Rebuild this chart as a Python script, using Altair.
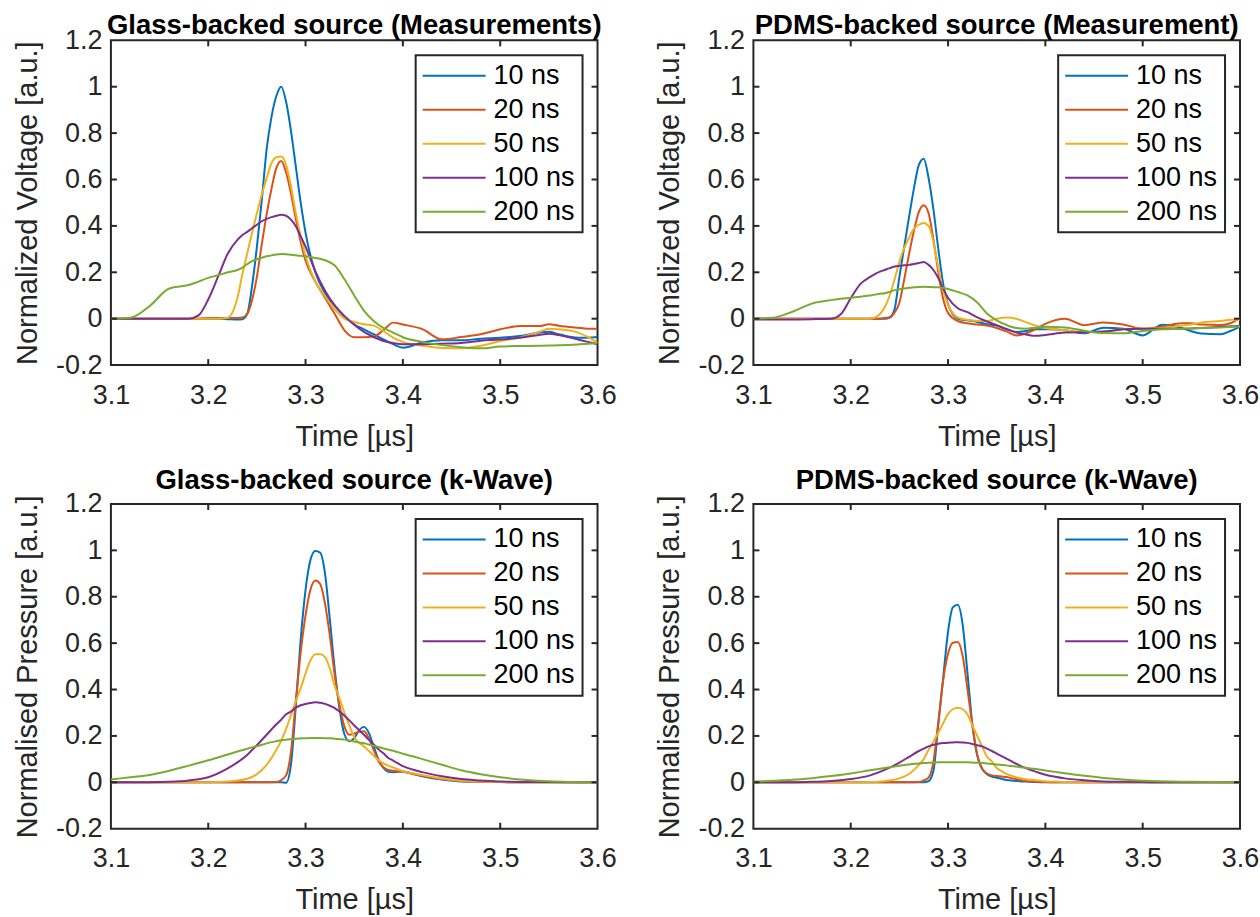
import altair as alt
import pandas as pd

SERIES = ["10 ns", "20 ns", "50 ns", "100 ns", "200 ns"]
COLORS = ["#0072BD", "#D95319", "#EDB120", "#7E2F8E", "#77AC30"]
X_TICKS = [3.1, 3.2, 3.3, 3.4, 3.5, 3.6]
Y_TICKS = [-0.2, 0, 0.2, 0.4, 0.6, 0.8, 1.0, 1.2]

# ---- measurement time grid (µs)
T_MEAS = [3.10, 3.12, 3.14, 3.16, 3.18, 3.19, 3.20, 3.21, 3.22, 3.23,
          3.235, 3.24, 3.245, 3.25, 3.255, 3.26, 3.265, 3.27, 3.275, 3.28,
          3.285, 3.29, 3.295, 3.30, 3.31, 3.32, 3.33, 3.34, 3.35, 3.36,
          3.37, 3.38, 3.39, 3.40, 3.42, 3.44, 3.46, 3.48, 3.50, 3.52,
          3.54, 3.55, 3.56, 3.58, 3.59, 3.60]

# Glass-backed source (Measurements)
gm_10 = [0, 0, 0, 0, 0, 0, 0, 0, -0.002, -0.004,
         -0.002, 0.02, 0.14, 0.31, 0.51, 0.73, 0.87, 0.96, 1.0, 0.935,
         0.81, 0.656, 0.50, 0.37, 0.20, 0.11, 0.055, 0.01, -0.024, -0.046,
         -0.067, -0.089, -0.11, -0.125, -0.103, -0.093, -0.093, -0.086, -0.082, -0.075,
         -0.06, -0.056, -0.067, -0.082, -0.082, -0.079]
gm_20 = [0, 0, 0, 0, 0, 0, 0.003, 0.003, 0.003, 0.003,
         0.005, 0.02, 0.08, 0.18, 0.32, 0.45, 0.56, 0.65, 0.68, 0.63,
         0.54, 0.43, 0.33, 0.25, 0.16, 0.09, 0.02, -0.05, -0.08, -0.08,
         -0.077, -0.05, -0.017, -0.025, -0.045, -0.089, -0.079, -0.067, -0.046, -0.032,
         -0.032, -0.024, -0.03, -0.039, -0.043, -0.043]
gm_50 = [0, 0, 0, 0, 0, 0, 0, 0, 0.004, 0.09,
         0.19, 0.28, 0.37, 0.455, 0.534, 0.606, 0.67, 0.696, 0.699, 0.663,
         0.57, 0.455, 0.355, 0.27, 0.16, 0.097, 0.04, 0.0, -0.014, -0.024,
         -0.03, -0.053, -0.082, -0.10, -0.117, -0.126, -0.127, -0.117, -0.096, -0.082,
         -0.057, -0.043, -0.046, -0.06, -0.079, -0.103]
gm_100 = [0, 0, 0, 0, 0, 0.014, 0.083, 0.18, 0.28, 0.34,
          0.36, 0.374, 0.39, 0.405, 0.42, 0.43, 0.438, 0.444, 0.448, 0.444,
          0.427, 0.398, 0.355, 0.31, 0.205, 0.12, 0.057, 0.011, -0.026, -0.057,
          -0.079, -0.096, -0.105, -0.11, -0.11, -0.108, -0.105, -0.095, -0.09, -0.082,
          -0.07, -0.065, -0.07, -0.09, -0.1, -0.11]
gm_200 = [0, 0.004, 0.055, 0.13, 0.145, 0.16, 0.176, 0.187, 0.20, 0.21,
          0.22, 0.235, 0.248, 0.256, 0.263, 0.269, 0.273, 0.277, 0.279, 0.278,
          0.276, 0.273, 0.271, 0.269, 0.262, 0.252, 0.229, 0.17, 0.10, 0.035,
          -0.01, -0.04, -0.06, -0.08, -0.1, -0.114, -0.123, -0.128, -0.12, -0.118,
          -0.117, -0.116, -0.115, -0.111, -0.108, -0.106]

# PDMS-backed source (Measurement)
pm_10 = [0, 0, 0, 0, 0, 0, 0, 0, 0, 0,
         0, 0.005, 0.04, 0.18, 0.31, 0.44, 0.563, 0.663, 0.69, 0.606,
         0.47, 0.30, 0.15, 0.062, 0.0, -0.007, -0.014, -0.024, -0.03, -0.046,
         -0.057, -0.053, -0.046, -0.046, -0.05, -0.063, -0.039, -0.043, -0.072, -0.026,
         -0.04, -0.054, -0.064, -0.067, -0.053, -0.034]
pm_20 = [0, 0, 0, 0, 0, 0, 0, 0, 0, 0,
         0.003, 0.005, 0.026, 0.069, 0.17, 0.28, 0.38, 0.46, 0.489, 0.455,
         0.34, 0.2, 0.085, 0.025, -0.01, -0.02, -0.025, -0.03, -0.04, -0.055,
         -0.072, -0.064, -0.045, -0.022, 0.0, -0.028, -0.016, -0.025, -0.043, -0.034,
         -0.02, -0.02, -0.025, -0.027, -0.02, 0.004]
pm_50 = [0, 0, 0, 0, 0, 0, 0, 0, 0, 0.02,
         0.05, 0.1, 0.169, 0.245, 0.305, 0.35, 0.388, 0.405, 0.413, 0.40,
         0.33, 0.22, 0.12, 0.06, 0.005, -0.005, -0.01, -0.01, 0.0, 0.005,
         0.0, -0.015, -0.03, -0.04, -0.05, -0.058, -0.055, -0.046, -0.043, -0.04,
         -0.03, -0.025, -0.017, -0.01, -0.005, -0.003]
pm_100 = [-0.003, -0.003, -0.003, -0.002, 0, 0.02, 0.088, 0.15, 0.18, 0.203,
          0.21, 0.218, 0.225, 0.228, 0.23, 0.232, 0.236, 0.24, 0.244, 0.232,
          0.21, 0.175, 0.13, 0.09, 0.045, 0.028, 0.006, -0.012, -0.028, -0.044,
          -0.06, -0.068, -0.074, -0.07, -0.06, -0.058, -0.055, -0.046, -0.043, -0.043,
          -0.043, -0.042, -0.04, -0.035, -0.033, -0.03]
pm_200 = [0, 0.004, 0.03, 0.065, 0.08, 0.086, 0.09, 0.095, 0.1, 0.107,
          0.11, 0.115, 0.123, 0.127, 0.13, 0.133, 0.135, 0.137, 0.1375, 0.137,
          0.136, 0.135, 0.132, 0.128, 0.115, 0.1, 0.07, 0.022, -0.007, -0.027,
          -0.04, -0.043, -0.039, -0.035, -0.038, -0.052, -0.062, -0.063, -0.053, -0.046,
          -0.043, -0.042, -0.04, -0.038, -0.036, -0.034]

# ---- k-Wave time grid (µs)
T_SIM = [3.10, 3.12, 3.14, 3.16, 3.18, 3.20, 3.22, 3.24, 3.25, 3.26,
         3.27, 3.275, 3.28, 3.285, 3.29, 3.295, 3.30, 3.305, 3.31, 3.315,
         3.32, 3.325, 3.33, 3.335, 3.34, 3.345, 3.35, 3.355, 3.36, 3.365,
         3.37, 3.375, 3.38, 3.385, 3.39, 3.40, 3.41, 3.42, 3.44, 3.46,
         3.48, 3.50, 3.55, 3.60]

# Glass-backed source (k-Wave)
gk_10 = [0, 0, 0, 0, 0, 0, 0, 0, 0, 0,
         0, 0, -0.002, 0.076, 0.33, 0.616, 0.83, 0.958, 0.997, 0.99,
         0.90, 0.70, 0.486, 0.314, 0.206, 0.177, 0.19, 0.224, 0.239, 0.213,
         0.155, 0.098, 0.062, 0.045, 0.043, 0.047, 0.037, 0.026, 0.012, 0.004,
         0.002, 0.001, 0, 0]
gk_20 = [0, 0, 0, 0, 0, 0, 0, 0, 0, 0,
         0.001, 0.01, 0.03, 0.13, 0.35, 0.56, 0.72, 0.83, 0.87, 0.855,
         0.77, 0.63, 0.46, 0.33, 0.24, 0.205, 0.21, 0.218, 0.22, 0.19,
         0.14, 0.09, 0.065, 0.053, 0.05, 0.045, 0.036, 0.028, 0.014, 0.006,
         0.003, 0.001, 0, 0]
gk_50 = [0, 0, 0, 0, 0, 0, 0.003, 0.015, 0.035, 0.075,
         0.14, 0.18, 0.23, 0.29, 0.35, 0.405, 0.47, 0.525, 0.552, 0.552,
         0.54, 0.49, 0.415, 0.36, 0.30, 0.245, 0.195, 0.17, 0.155, 0.135,
         0.115, 0.095, 0.082, 0.072, 0.064, 0.048, 0.039, 0.031, 0.016, 0.007,
         0.003, 0.001, 0, 0]
gk_100 = [0, 0, 0, 0.002, 0.008, 0.022, 0.06, 0.118, 0.16, 0.205,
          0.25, 0.27, 0.293, 0.305, 0.322, 0.332, 0.338, 0.342, 0.345, 0.343,
          0.338, 0.33, 0.32, 0.305, 0.287, 0.267, 0.245, 0.225, 0.205, 0.183,
          0.163, 0.142, 0.125, 0.105, 0.094, 0.07, 0.055, 0.044, 0.026, 0.014,
          0.008, 0.003, 0.001, 0]
gk_200 = [0.012, 0.022, 0.032, 0.05, 0.072, 0.095, 0.12, 0.145, 0.156, 0.168,
          0.177, 0.181, 0.184, 0.186, 0.188, 0.189, 0.19, 0.191, 0.191, 0.191,
          0.19, 0.19, 0.188, 0.186, 0.184, 0.18, 0.176, 0.172, 0.168, 0.163,
          0.158, 0.152, 0.146, 0.141, 0.136, 0.123, 0.112, 0.10, 0.076, 0.052,
          0.035, 0.022, 0.005, 0.0]

# PDMS-backed source (k-Wave)
pk_10 = [0, 0, 0, 0, 0, 0, 0, 0, 0, 0,
         0, 0, 0.005, 0.05, 0.25, 0.45, 0.65, 0.755, 0.765, 0.68,
         0.47, 0.25, 0.115, 0.058, 0.035, 0.025, 0.02, 0.015, 0.01, 0.008,
         0.006, 0.004, 0.003, 0.002, 0.001, 0, 0, 0, 0, 0,
         0, 0, 0, 0]
pk_20 = [0, 0, 0, 0, 0, 0, 0, 0, 0, 0,
         0.001, 0.008, 0.02, 0.09, 0.26, 0.44, 0.555, 0.602, 0.605, 0.545,
         0.4, 0.245, 0.12, 0.06, 0.038, 0.03, 0.027, 0.025, 0.023, 0.018,
         0.014, 0.009, 0.006, 0.004, 0.003, 0.001, 0, 0, 0, 0,
         0, 0, 0, 0]
pk_50 = [0, 0, 0, 0, 0, 0, 0.001, 0.008, 0.017, 0.036,
         0.075, 0.1, 0.14, 0.175, 0.215, 0.255, 0.295, 0.315, 0.321, 0.315,
         0.292, 0.245, 0.2, 0.155, 0.11, 0.09, 0.062, 0.048, 0.036, 0.028,
         0.022, 0.018, 0.013, 0.011, 0.009, 0.005, 0.003, 0.001, 0, 0,
         0, 0, 0, 0]
pk_100 = [0, 0, 0, 0.002, 0.006, 0.014, 0.03, 0.063, 0.085, 0.11,
          0.135, 0.145, 0.155, 0.162, 0.166, 0.169, 0.171, 0.172, 0.173, 0.172,
          0.17, 0.165, 0.16, 0.155, 0.145, 0.135, 0.124, 0.113, 0.102, 0.091,
          0.08, 0.07, 0.061, 0.053, 0.046, 0.033, 0.024, 0.017, 0.009, 0.004,
          0.002, 0.001, 0, 0]
pk_200 = [0.003, 0.007, 0.011, 0.018, 0.027, 0.038, 0.052, 0.065, 0.071, 0.077,
          0.081, 0.083, 0.084, 0.085, 0.086, 0.086, 0.086, 0.086, 0.086, 0.086,
          0.086, 0.085, 0.084, 0.083, 0.081, 0.079, 0.077, 0.075, 0.073, 0.07,
          0.068, 0.065, 0.063, 0.06, 0.057, 0.051, 0.045, 0.039, 0.028, 0.019,
          0.012, 0.007, 0.002, 0.0]

FONT = "Liberation Sans"
AX = "#262626"
W, H = 487, 325
TICK = 6


def panel(t, values, title, ytitle, title_offset):
    rows = []
    for k, (name, vals) in enumerate(zip(SERIES, values)):
        for tt, v in zip(t, vals):
            rows.append({"t": tt, "v": v, "s": name, "o": k})
    df = pd.DataFrame(rows)
    xs = alt.Scale(domain=[3.1, 3.6], nice=False, zero=False)
    ys = alt.Scale(domain=[-0.2, 1.2], nice=False, zero=False)
    xaxis = alt.Axis(values=X_TICKS, title="Time [µs]", format=".1f",
                     labelFontSize=27, titleFontSize=29, labelPadding=17,
                     titlePadding=14, ticks=False, tickSize=0, domain=False,
                     grid=False, labelColor=AX, titleColor=AX, labelFont=FONT,
                     titleFont=FONT, titleFontWeight="normal", labelFlush=False,
                     labelOverlap=False)
    yaxis = alt.Axis(values=Y_TICKS, title=ytitle,
                     labelExpr="datum.value < 0 ? '-' + format(-datum.value, '.1~f') : format(datum.value, '.1~f')",
                     labelFontSize=27, titleFontSize=29, labelPadding=9,
                     titlePadding=13, ticks=False, tickSize=0, domain=False,
                     grid=False, labelColor=AX, titleColor=AX, labelFont=FONT,
                     titleFont=FONT, titleFontWeight="normal", labelFlush=False,
                     labelOverlap=False)
    lines = alt.Chart(df).mark_line(strokeWidth=2, interpolate="monotone", clip=True).encode(
        x=alt.X("t:Q", scale=xs, axis=xaxis),
        y=alt.Y("v:Q", scale=ys, axis=yaxis),
        color=alt.Color("s:N", scale=alt.Scale(domain=SERIES, range=COLORS), sort=SERIES,
                        legend=alt.Legend(title=None, orient="top-right", offset=15,
                                          padding=7, strokeColor=AX, fillColor="white",
                                          symbolType="M-3,0H3", symbolSize=441,
                                          symbolOffset=18, symbolStrokeWidth=2,
                                          labelFontSize=27, labelFont=FONT,
                                          labelColor="black", rowPadding=6,
                                          labelOffset=26, cornerRadius=0)),
        order=alt.Order("o:Q"),
    )
    xt = pd.DataFrame({"t": X_TICKS[1:-1]})
    yt = pd.DataFrame({"v": Y_TICKS[1:-1]})
    rule = dict(color=AX, strokeWidth=2)
    bottom = alt.Chart(xt).mark_rule(**rule).encode(
        x=alt.X("t:Q", scale=xs, axis=xaxis), y=alt.value(H), y2=alt.value(H - TICK))
    top = alt.Chart(xt).mark_rule(**rule).encode(
        x=alt.X("t:Q", scale=xs, axis=xaxis), y=alt.value(0), y2=alt.value(TICK))
    left = alt.Chart(yt).mark_rule(**rule).encode(
        y=alt.Y("v:Q", scale=ys, axis=yaxis), x=alt.value(0), x2=alt.value(TICK))
    right = alt.Chart(yt).mark_rule(**rule).encode(
        y=alt.Y("v:Q", scale=ys, axis=yaxis), x=alt.value(W), x2=alt.value(W - TICK))
    return alt.layer(lines, bottom, top, left, right).properties(
        width=W, height=H,
        title=alt.TitleParams(title, font=FONT, fontSize=27.5, fontWeight="bold",
                              color="black", offset=title_offset, anchor="middle"))


p1 = panel(T_MEAS, [gm_10, gm_20, gm_50, gm_100, gm_200],
           "Glass-backed source (Measurements)", "Normalized Voltage [a.u.]", -13)
p2 = panel(T_MEAS, [pm_10, pm_20, pm_50, pm_100, pm_200],
           "PDMS-backed source (Measurement)", "Normalized Voltage [a.u.]", -13)
p3 = panel(T_SIM, [gk_10, gk_20, gk_50, gk_100, gk_200],
           "Glass-backed source (k-Wave)", "Normalised Pressure [a.u.]", -5)
p4 = panel(T_SIM, [pk_10, pk_20, pk_50, pk_100, pk_200],
           "PDMS-backed source (k-Wave)", "Normalised Pressure [a.u.]", -5)

chart = alt.concat(p1, p2, p3, p4, columns=2, spacing={"row": 14, "column": 37}).resolve_scale(
    color="independent").resolve_legend(color="independent").properties(
    padding={"left": 12, "top": 10, "right": 0, "bottom": 0},
    background="white",
).configure_view(stroke=AX, strokeWidth=2).configure_legend(strokeWidth=2)

chart.save("out.html", embed_options={"renderer": "svg", "actions": False})
